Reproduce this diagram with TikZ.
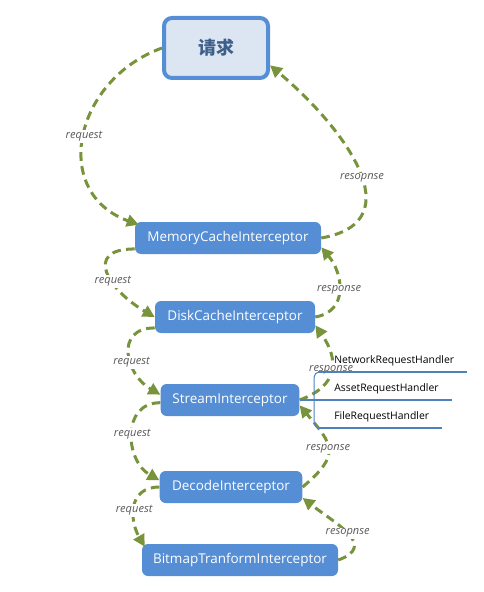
\documentclass[tikz,border=0pt]{standalone}
\usepackage{fontspec}
\setmainfont{Open Sans}
\newfontfamily\cjk{Noto Sans CJK SC}
\usepackage{tikz}
\usetikzlibrary{arrows.meta,positioning}
\definecolor{boxblue}{HTML}{558ED5}
\definecolor{boxpale}{HTML}{DCE6F2}
\definecolor{titleblue}{HTML}{3E5F8A}
\definecolor{flowgreen}{HTML}{77933C}
\definecolor{labelgray}{HTML}{595959}
\definecolor{handblue}{HTML}{4F81BD}

\begin{document}
\begin{tikzpicture}
		[x=0.75pt,y=0.75pt,
		main node/.style={draw=none,fill=boxblue,text=white,rounded corners=4.5pt,minimum height=24pt,inner sep=0pt,font=\fontsize{10.1}{12}\selectfont},
		top node/.style={draw=boxblue,line width=3pt,fill=boxpale,text=titleblue,rounded corners=6pt,minimum width=78pt,minimum height=45pt,font=\cjk\bfseries\fontsize{13.5}{15}\selectfont},
		flow/.style={draw=flowgreen,line width=2.25pt,dash pattern=on 6.5pt off 4pt,-{Triangle[length=9pt,width=9pt]}},
		lbl/.style={fill=white,text=labelgray,inner sep=1pt,font=\fontsize{8.3}{10}\selectfont\itshape},
		handler/.style={anchor=west,inner sep=0pt,font=\fontsize{7.8}{10}\selectfont},
		hline/.style={draw=handblue,line width=1.5pt},
		brk/.style={draw=handblue,line width=0.75pt,rounded corners=4pt}]
		\useasboundingbox (0,0) rectangle (484,-592);
		
		\node[top node] (0) at (216,-48) {请求};
		\node[main node,minimum width=139.5pt] (1) at (228,-238) {MemoryCacheInterceptor};
		\node[main node,minimum width=120pt] (2) at (235,-317) {DiskCacheInterceptor};
		\node[main node,minimum width=104pt] (3) at (230,-400) {StreamInterceptor};
		\node[main node,minimum width=107pt] (4) at (231,-487) {DecodeInterceptor};
		\node[main node,minimum width=147pt] (5) at (240,-560) {BitmapTranformInterceptor};
		
		\draw[flow] (0.west) to[out=200,in=160,looseness=1.35] node [lbl] {request} ([shift={(4,-3)}]1.north west);
		\draw[flow] (1.east) to[out=10,in=-40,looseness=1.35] node [lbl,pos=0.45] {resopnse} ([yshift=-13pt]0.east);
		\draw[flow] ([yshift=4pt]1.south west) to[out=180,in=150,looseness=1.9] node [lbl,pos=0.6] {request} (2.west);
		\draw[flow] (2.east) to[out=10,in=-50,looseness=1.25] node [lbl] {response} ([yshift=-7pt]1.east);
		\draw[flow] ([yshift=4pt]2.south west) to[out=180,in=150,looseness=1.55] node [lbl,pos=0.6] {request} ([yshift=4pt]3.west);
		\draw[flow] (3.east) to[out=20,in=-55,looseness=1.4] node [lbl] {response} ([yshift=6pt]2.south east);
		\draw[flow] ([yshift=-2pt]3.west) to[out=180,in=150,looseness=1.3] node [lbl] {request} ([yshift=5pt]4.west);
		\draw[flow] (4.east) to[out=40,in=-50,looseness=1.6] node [lbl] {response} ([yshift=-4pt]3.east);
		\draw[flow] (4.west) to[out=180,in=120,looseness=1.3] node [lbl,pos=0.55] {request} ([shift={(3,-3)}]5.north west);
		\draw[flow] (5.east) to[out=20,in=-38,looseness=1.5] node [lbl] {resopnse} ([yshift=4pt]4.south east);
		
		\node[handler] (h1) at (334,-361) {NetworkRequestHandler};
		\node[handler] (h2) at (334,-389) {AssetRequestHandler};
		\node[handler] (h3) at (334,-417) {FileRequestHandler};
		\draw[brk] (330,-372) -- (314,-372) -- (314,-428) -- (330,-428);
		\draw[hline] (318,-372) -- (467,-372);
		\draw[hline] (3.east) -- (452,-400);
		\draw[hline] (318,-428) -- (442,-428);
		\end{tikzpicture}
\end{document}
